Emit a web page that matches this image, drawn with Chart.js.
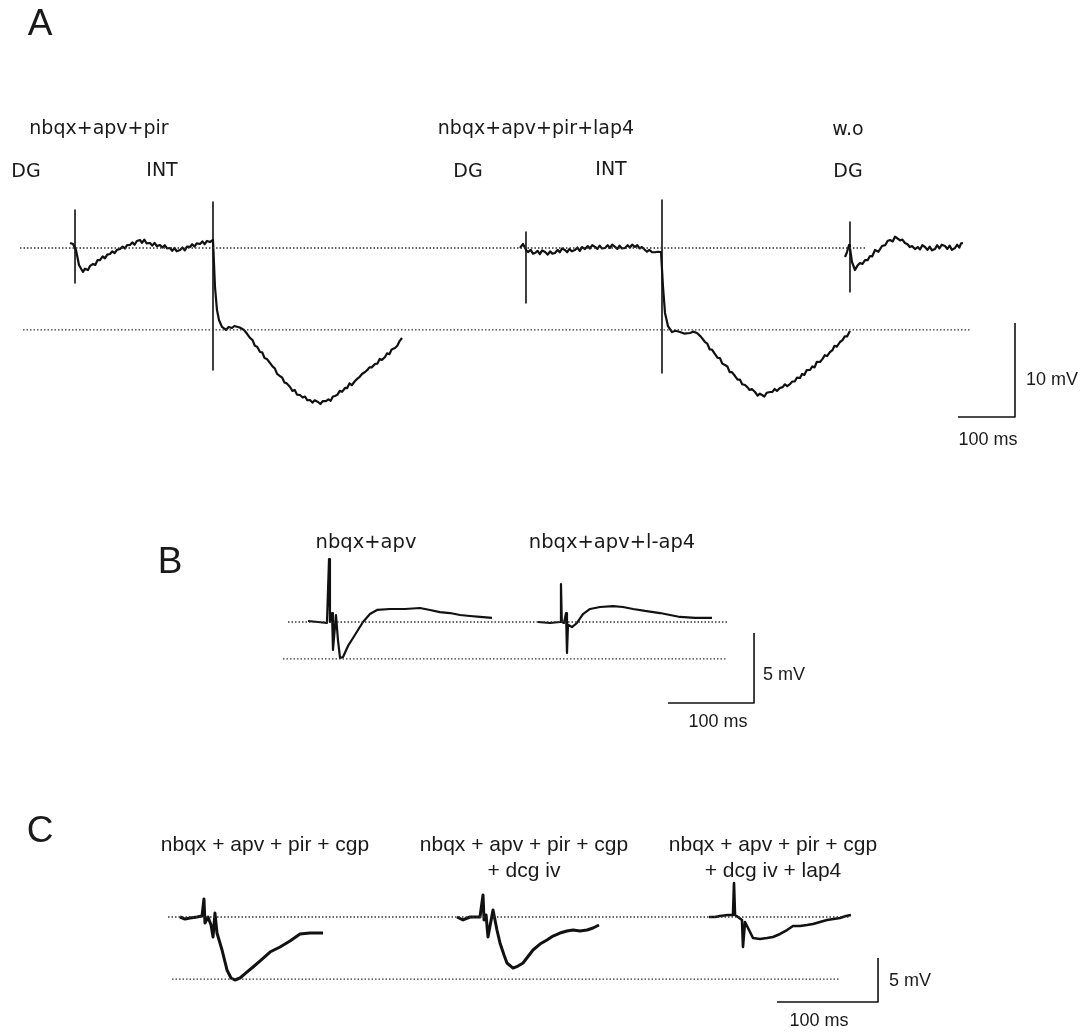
<!DOCTYPE html>
<html><head><meta charset="utf-8">
<script src="https://cdn.jsdelivr.net/npm/chart.js@4"></script>
<style>
html,body{margin:0;padding:0;background:#fff;}
#wrap{position:relative;width:1086px;height:1032px;overflow:hidden;background:#fff;}
#c{position:absolute;left:0;top:0;}
.t{position:absolute;white-space:nowrap;color:#1a1a1a;line-height:1;transform:translate(-50%,-50%);}
.g{font-family:"DejaVu Sans",sans-serif;font-size:19px;}
.gb{font-family:"DejaVu Sans",sans-serif;font-size:19.5px;}
.h{font-family:"Liberation Sans",Arial,sans-serif;font-size:21px;}
.s{font-family:"Liberation Sans",Arial,sans-serif;font-size:18px;}
.p{font-family:"Liberation Sans",Arial,sans-serif;font-size:37px;}
</style></head>
<body><div id="wrap"><canvas id="c" width="1086" height="1032"></canvas></div>
<script>
// ---------- DATA (time in ms, potential in mV relative to upper baseline) ----------
// Panel A
const traceA1 = [[87.7,0.53],[93.0,0.43],[98.2,-0.21],[103.5,-1.81],[110.5,-2.55],[114,-2.2],[119.3,-2.34],[123,-1.9],[128.1,-1.70],[132,-1.8],[136,-1.3],[140.4,-1.28],[145,-0.9],[149,-1.1],[153,-0.7],[157.9,-0.64],[162,-0.35],[166,-0.55],[170,-0.2],[175.4,-0.11],[180,0.15],[184,-0.05],[188,0.3],[193.0,0.32],[197,0.6],[201,0.35],[205,0.75],[210.5,0.85],[214,0.55],[218,0.9],[222,0.5],[228.1,0.53],[232,0.25],[236,0.55],[240,0.2],[245.6,0.32],[250,0.05],[254,0.3],[258,-0.05],[263.2,0],[267,-0.3],[271,0.0],[275,-0.35],[280.7,-0.21],[285,0.05],[289,-0.25],[293,0.15],[298.2,0.11],[302,0.4],[306,0.15],[310,0.5],[315.8,0.43],[320,0.7],[324,0.4],[328,0.75],[333.3,0.64],[338.6,0.85],[342.1,-4.15],[345.6,-6.60],[349.1,-7.66],[354.4,-8.40],[361.4,-8.72],[366,-8.4],[371.9,-8.51],[376,-8.3],[382.5,-8.40],[387,-8.5],[393.0,-8.72],[398,-9.1],[403.5,-9.57],[408,-9.8],[412,-10.4],[416,-10.5],[421.1,-11.06],[425,-11.1],[429,-11.7],[433,-11.8],[438.6,-12.23],[443,-12.6],[447,-12.8],[451,-13.4],[456.1,-13.62],[460,-13.8],[464,-14.3],[468,-14.4],[473.7,-14.79],[478,-15.2],[482,-15.1],[486,-15.6],[491.2,-15.64],[496,-15.9],[500,-15.8],[504,-16.2],[508.8,-16.17],[513,-16.45],[517,-16.2],[522.8,-16.38],[527,-16.6],[531,-16.3],[536.8,-16.28],[541,-16.1],[545,-16.25],[549,-15.8],[552.6,-15.74],[557,-15.6],[561,-15.2],[565,-15.3],[570.2,-14.89],[574,-14.9],[578,-14.4],[582,-14.6],[587.7,-14.15],[592,-13.9],[596,-13.7],[600,-13.4],[605.3,-13.19],[609,-13.0],[613,-12.7],[617,-12.7],[622.8,-12.34],[627,-12.3],[631,-11.8],[635,-11.9],[640.4,-11.60],[644,-11.2],[648,-11.3],[652,-10.8],[657.9,-10.64],[662,-10.4],[666,-9.9],[670.2,-9.57]];
const traceA2 = [[877.2,0],[882.5,0.43],[887.7,-0.2],[891.2,-0.43],[896,-0.2],[900,-0.6],[903.5,-0.53],[908,-0.3],[912,-0.65],[916,-0.25],[921.1,-0.43],[926,-0.7],[930,-0.35],[934,-0.6],[938.6,-0.53],[943,-0.2],[947,-0.45],[951,-0.05],[956.1,-0.21],[960,-0.45],[964,-0.1],[968,-0.35],[973.7,-0.21],[978,0.05],[982,-0.3],[986,0.1],[991.2,-0.11],[996,0.2],[1000,-0.05],[1004,0.3],[1008.8,0.11],[1013,-0.1],[1017,0.25],[1021,-0.05],[1026.3,0],[1031,0.3],[1035,0.0],[1039,0.35],[1043.9,0.11],[1048,-0.1],[1052,0.25],[1056,-0.05],[1061.4,0],[1066,0.3],[1070,0.05],[1074,0.35],[1078.9,0.11],[1083,0.3],[1087,-0.05],[1091,0.1],[1096.5,-0.21],[1100,-0.4],[1104,-0.2],[1108.8,-0.43],[1114,-0.45],[1119,-0.4],[1124.6,-0.43],[1128.1,-4.15],[1131.6,-6.91],[1136.8,-8.30],[1143.9,-8.94],[1150,-8.8],[1157.9,-8.94],[1165,-9.1],[1175.4,-9.04],[1181,-8.9],[1187.7,-9.04],[1194,-9.4],[1201.8,-10.00],[1206,-10.2],[1210,-10.8],[1214,-10.8],[1219.3,-11.28],[1224,-11.7],[1228,-11.7],[1232,-12.3],[1236.8,-12.45],[1241,-12.6],[1245,-13.2],[1249,-13.2],[1254.4,-13.62],[1259,-14.0],[1263,-14.0],[1267,-14.5],[1271.9,-14.57],[1276,-14.8],[1280,-15.1],[1284,-15.0],[1289.5,-15.32],[1294,-15.7],[1298,-15.5],[1301.8,-15.64],[1306,-15.8],[1310,-15.4],[1315.8,-15.32],[1320,-15.3],[1324,-15.0],[1328,-15.2],[1333.3,-14.89],[1338,-14.8],[1342,-14.5],[1346,-14.7],[1350.9,-14.47],[1355,-14.2],[1359,-14.2],[1363,-13.8],[1368.4,-13.83],[1372,-13.4],[1376,-13.5],[1380,-13.0],[1386.0,-12.98],[1390,-12.6],[1394,-12.7],[1398,-12.1],[1403.5,-12.13],[1408,-11.8],[1412,-11.4],[1416,-11.5],[1421.1,-11.06],[1425,-10.9],[1429,-10.4],[1433,-10.5],[1438.6,-10.00],[1443,-9.8],[1447,-9.4],[1451,-9.4],[1456.1,-8.83]];
const traceA3 = [[1447.4,-0.96],[1450.9,-0.43],[1454.4,0.32],[1456.1,0.0],[1459.6,-1.49],[1464.9,-2.34],[1469,-1.9],[1473.7,-1.60],[1478,-1.7],[1482.5,-1.28],[1487,-1.3],[1491.2,-0.85],[1495,-0.9],[1500.0,-0.21],[1506,-0.4],[1512.3,0.21],[1518,0.3],[1522,0.75],[1526.3,0.85],[1531,0.7],[1535,1.2],[1538.6,1.06],[1544,0.8],[1548,0.9],[1552.6,0.53],[1557,0.4],[1561,0.1],[1565,0.2],[1570.2,-0.11],[1575,0.1],[1579,-0.15],[1583,0.3],[1587.7,0.11],[1592,-0.2],[1596,0.15],[1600,-0.25],[1605.3,-0.11],[1609,0.3],[1613,-0.05],[1617,0.35],[1622.8,0.21],[1627,-0.1],[1631,0.25],[1635,-0.2],[1640.4,0],[1644,0.35],[1648,0.05],[1651,0.5],[1654.4,0.53]];
// stimulus artefacts: [time, top, bottom]
const artefactsA = [[96.5,4.04,-3.72],[338.6,4.89,-12.98],[887.7,1.70,-5.85],[1126.3,5.11,-13.30],[1456.1,2.77,-4.68]];
// dotted reference levels: [level, start, end]
const baselinesA = [[0,0,1482.5],[-8.72,5.3,1666.7]];
// scale bar: [corner time, corner level, 100 ms, 10 mV]
const scaleA = [1745.6,-17.98,100,10];

// Panel B
const traceB1 = [[23.3,0.07],[34.9,0],[45.3,-0.07],[47.7,4.5],[48.8,0],[51.2,0.64],[52.3,-2.0],[55.8,0.5],[58.1,-1.29],[60.5,-2.57],[64.0,-2.5],[69.8,-1.71],[75.6,-1.14],[81.4,-0.57],[87.2,0],[95.3,0.57],[103.5,0.86],[118.6,0.93],[136.0,0.93],[153.5,1.0],[165.1,0.86],[176.7,0.71],[188.4,0.64],[200.0,0.50],[211.6,0.43],[223.3,0.36],[237.2,0.29]];
const traceB2 = [[290.7,0],[304.7,-0.07],[316.3,0],[317.4,2.71],[318.4,0],[320.9,-0.07],[323.3,0.64],[324.4,-2.21],[325.6,-0.2],[330.2,-0.36],[336.0,-0.07],[343.0,0.57],[351.2,0.93],[362.8,1.07],[377.9,1.14],[389.5,1.07],[401.2,0.93],[415.1,0.79],[432.6,0.64],[444.2,0.50],[455.8,0.36],[473.3,0.29],[493.0,0.29]];
const baselinesB = [[0,0,511.6],[-2.64,-5.8,510.5]];
const scaleB = [541.9,-5.79,100,5];

// Panel C
const traceC1 = [[11.9,0],[16.8,-0.23],[21.8,-0.11],[28.7,0],[33.7,0.11],[35.6,2.05],[36.6,-0.68],[39.6,0],[42.6,-0.91],[44.6,-2.27],[46.5,0.45],[48.5,-1.82],[53.5,-3.75],[58.4,-6.02],[62.4,-6.93],[66.3,-7.16],[71.3,-6.93],[77.2,-6.36],[84.2,-5.68],[92.1,-4.89],[101.0,-3.98],[110.9,-3.41],[120.8,-2.73],[130.7,-1.93],[140.6,-1.82],[153.5,-1.82]];
const traceC2 = [[286.1,0],[292.1,-0.34],[299.0,0],[308.9,0],[311.9,2.5],[312.9,-0.34],[314.9,0.23],[316.8,-2.27],[321.8,0.80],[325.7,-1.48],[328.7,-2.95],[332.7,-4.32],[335.6,-5.23],[341.6,-5.80],[346.5,-5.57],[351.5,-5.23],[361.4,-3.75],[368.3,-3.07],[375.2,-2.61],[381.2,-2.16],[388.1,-1.82],[395.0,-1.59],[401.0,-1.48],[407.9,-1.59],[414.9,-1.48],[420.8,-1.25],[426.7,-0.91]];
const traceC3 = [[535.6,0],[541.6,0],[546.5,0.11],[554.5,0.23],[559.4,0.23],[560.4,3.86],[561.4,0.23],[564.3,0],[568.3,-0.34],[569.3,-3.41],[571.3,-0.57],[574.3,-1.25],[579.2,-2.39],[586.1,-2.50],[593.1,-2.39],[599.0,-2.27],[606.0,-1.93],[612.9,-1.48],[618.8,-1.02],[625.7,-1.02],[632.7,-0.91],[638.6,-0.80],[645.5,-0.57],[652.5,-0.34],[658.9,-0.23],[665.3,-0.11],[671.3,0.11],[676.2,0.23]];
const baselinesC = [[0,0,675.2],[-7.05,4.0,665.3]];
const scaleC = [703.0,-9.66,100,5];

// ---------- LAYOUT (pixel calibration of each panel) ----------
const W = 1086, H = 1032;
const panels = {
  A: {x0: 20,  pxPerMs: 0.57, y0: 248, pxPerMv: 9.4},
  B: {x0: 288, pxPerMs: 0.86, y0: 622, pxPerMv: 14},
  C: {x0: 168, pxPerMs: 1.01, y0: 917, pxPerMv: 8.8}
};
const scales = {};
for (const k in panels) {
  const p = panels[k];
  scales['x' + k] = {type:'linear', axis:'x', position:'bottom', display:false, min:(0 - p.x0)/p.pxPerMs, max:(W - p.x0)/p.pxPerMs};
  scales['y' + k] = {type:'linear', axis:'y', position:'left', display:false, min:(p.y0 - H)/p.pxPerMv, max:p.y0/p.pxPerMv};
}

const datasets = [];
function add(points, k, width, dash, color) {
  datasets.push({
    data: points.map(p => ({x:p[0], y:p[1]})),
    xAxisID: 'x' + k, yAxisID: 'y' + k,
    showLine: true, pointRadius: 0, borderWidth: width,
    borderColor: color || '#111', borderDash: dash || [], tension: 0,
    borderJoinStyle: 'round', borderCapStyle: 'butt'
  });
}
function addBaselines(list, k) {
  list.forEach(b => add([[b[1], b[0]], [b[2], b[0]]], k, 1.3, [1.5, 2], '#333'));
}
function addArtefacts(list, k, w) {
  list.forEach(a => add([[a[0], a[1]], [a[0], a[2]]], k, w));
}
function addScale(s, k) {
  add([[s[0] - s[2], s[1]], [s[0], s[1]], [s[0], s[1] + s[3]]], k, 1.6);
}

addBaselines(baselinesA, 'A');
addBaselines(baselinesB, 'B');
addBaselines(baselinesC, 'C');
addArtefacts(artefactsA, 'A', 1.6);
add(traceA1, 'A', 2.2); add(traceA2, 'A', 2.2); add(traceA3, 'A', 2.2);
add(traceB1, 'B', 2.2); add(traceB2, 'B', 2.2);
add(traceC1, 'C', 3); add(traceC2, 'C', 3); add(traceC3, 'C', 2.6);
addScale(scaleA, 'A'); addScale(scaleB, 'B'); addScale(scaleC, 'C');

new Chart(document.getElementById('c'), {
  type: 'scatter',
  data: {datasets},
  options: {
    responsive: false, animation: false, events: [],
    layout: {padding: 0},
    plugins: {legend: {display: false}, tooltip: {enabled: false}},
    scales
  }
});

// ---------- LABELS ----------
const labels = [
  ['A', 40, 22, 'p'],
  ['nbqx+apv+pir', 99, 127, 'g'],
  ['DG', 26, 170, 'g'], ['INT', 162, 169, 'g'],
  ['nbqx+apv+pir+lap4', 536, 127, 'g'],
  ['DG', 468, 170, 'g'], ['INT', 611, 168, 'g'],
  ['w.o', 848, 128, 'g'], ['DG', 848, 170, 'g'],
  ['10 mV', 1052, 379, 's'], ['100 ms', 988, 439, 's'],
  ['B', 170, 560, 'p'],
  ['nbqx+apv', 366, 542, 'gb'], ['nbqx+apv+l-ap4', 612, 542, 'gb'],
  ['5 mV', 784, 674, 's'], ['100 ms', 718, 721, 's'],
  ['C', 40, 829, 'p'],
  ['nbqx + apv + pir + cgp', 265, 843, 'h'],
  ['nbqx + apv + pir + cgp', 524, 843, 'h'], ['+ dcg iv', 524, 869, 'h'],
  ['nbqx + apv + pir + cgp', 773, 843, 'h'], ['+ dcg iv + lap4', 773, 869, 'h'],
  ['5 mV', 910, 980, 's'], ['100 ms', 819, 1020, 's']
];
const wrap = document.getElementById('wrap');
labels.forEach(l => {
  const d = document.createElement('div');
  d.className = 't ' + l[3];
  d.textContent = l[0];
  d.style.left = l[1] + 'px';
  d.style.top = l[2] + 'px';
  wrap.appendChild(d);
});
</script></body></html>
